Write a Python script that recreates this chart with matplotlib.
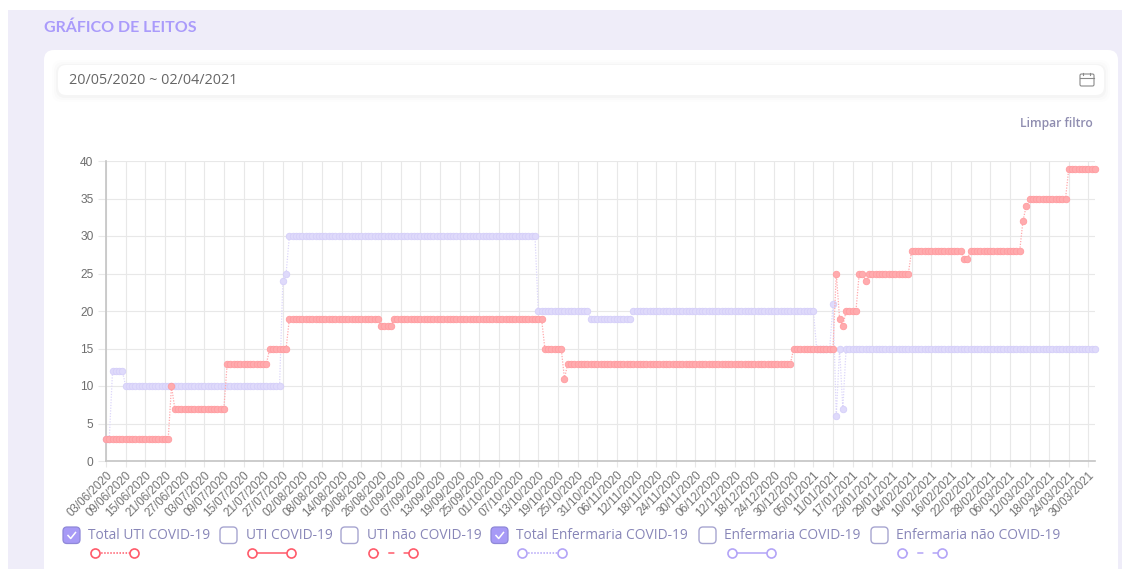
import matplotlib
matplotlib.use("Agg")
import matplotlib.pyplot as plt
import numpy as np
from matplotlib.patches import FancyBboxPatch, Rectangle

W, H = 1122, 569

tick_labels = ["03/06/2020","09/06/2020","15/06/2020","21/06/2020","27/06/2020","03/07/2020","09/07/2020",
 "15/07/2020","21/07/2020","27/07/2020","02/08/2020","08/08/2020","14/08/2020","20/08/2020","26/08/2020",
 "01/09/2020","07/09/2020","13/09/2020","19/09/2020","25/09/2020","01/10/2020","07/10/2020","13/10/2020",
 "19/10/2020","25/10/2020","31/10/2020","06/11/2020","12/11/2020","18/11/2020","24/11/2020","30/11/2020",
 "06/12/2020","12/12/2020","18/12/2020","24/12/2020","30/12/2020","05/01/2021","11/01/2021","17/01/2021",
 "23/01/2021","29/01/2021","04/02/2021","10/02/2021","16/02/2021","22/02/2021","28/02/2021","06/03/2021",
 "12/03/2021","18/03/2021","24/03/2021","30/03/2021"]

# Daily values, stored as level + number of consecutive days
uti_levels = [3,10,7,13,15,19,18,19,15,11,13,15,25,19,18,20,25,24,25,28,27,28,32,34,35,39]
uti_days   = [20,1,16,13,6,28,4,46,6,1,69,13,1,1,1,4,2,1,13,16,2,16,1,1,12,9]
enf_levels = [3,12,10,24,25,30,20,19,20,15,21,6,15,7,15]
enf_days   = [2,4,48,1,1,76,16,13,56,5,1,1,1,1,77]

total_uti = np.repeat(uti_levels, uti_days)
total_enf = np.repeat(enf_levels, enf_days)

y_ticks = [0,5,10,15,20,25,30,35,40]

legend_names = ["Total UTI COVID-19","UTI COVID-19","UTI não COVID-19",
                "Total Enfermaria COVID-19","Enfermaria COVID-19","Enfermaria não COVID-19"]
legend_checked = [True,False,False,True,False,False]

UI_FONT = ["Open Sans","DejaVu Sans"]

fig = plt.figure(figsize=(W/100, H/100), dpi=100, facecolor="white")

# Page furniture in pixel coordinates
bg = fig.add_axes([0,0,1,1])
bg.set_xlim(0,W); bg.set_ylim(H,0); bg.axis("off")
bg.add_patch(Rectangle((8,10), W-8, H-10, fc="#efedf9", ec="none"))
bg.add_patch(FancyBboxPatch((44,50),1074,540,boxstyle="round,pad=0,rounding_size=10",fc="white",ec="none"))
for grow,a in ((6,.008),(4,.012),(2,.018)):
    bg.add_patch(FancyBboxPatch((58-grow,65-grow+1),1046+2*grow,30+2*grow,boxstyle="round,pad=0,rounding_size=9",fc="#000000",ec="none",alpha=a))
bg.add_patch(FancyBboxPatch((58,65),1046,30,boxstyle="round,pad=0,rounding_size=8",fc="white",ec="none"))
bg.text(44,27.5,"GRÁFICO DE LEITOS",fontsize=11.5,fontweight="bold",color="#aa9bfb",va="center",ha="left",family=["Lato","Open Sans","DejaVu Sans"])
bg.text(69,80.5,"20/05/2020 ~ 02/04/2021",fontsize=10.4,color="#666666",va="center",ha="left",family=UI_FONT)
bg.text(1093,123.5,"Limpar filtro",fontsize=8.7,fontweight="semibold",color="#8f8db0",va="center",ha="right",family=UI_FONT)
# calendar icon
bg.add_patch(FancyBboxPatch((1080,74),14,12,boxstyle="round,pad=0,rounding_size=1.5",fc="none",ec="#8a8a8a",lw=.8))
bg.plot([1080,1094],[77.5,77.5],color="#8a8a8a",lw=.8)
bg.plot([1083.5,1083.5],[72.5,75],color="#8a8a8a",lw=.8)
bg.plot([1090.5,1090.5],[72.5,75],color="#8a8a8a",lw=.8)

# Chart
L,R,T,B = 106,1095,161,461
ax = fig.add_axes([L/W,1-B/H,(R-L)/W,(B-T)/H])
ax.patch.set_alpha(0)
x = np.arange(len(total_uti))
ax.set_xlim(0,302); ax.set_ylim(0,40)
ax.set_xticks(np.arange(len(tick_labels))*6)
ax.set_xticklabels(tick_labels,rotation=45,ha="right",rotation_mode="anchor",fontsize=8.4,color="#737373",family="Liberation Sans")
ax.set_yticks(y_ticks)
ax.set_yticklabels(y_ticks,fontsize=8.6,color="#6e6e6e",family="Liberation Sans")
ax.grid(True,color="#e8e8e8",lw=.8)
ax.set_axisbelow(True)
ax.tick_params(axis="y",length=6,color="#e8e8e8",width=.8,pad=3)
ax.tick_params(axis="x",length=4,color="#e8e8e8",width=.8,pad=2)
for s in ("top","right"):
    ax.spines[s].set_visible(False)
for s in ("left","bottom"):
    ax.spines[s].set_color("#c4c4c4"); ax.spines[s].set_linewidth(1.2)

def series(vals,line_c,fill_c,edge_c,z):
    ax.plot(x,vals,color=line_c,lw=.9,ls=(0,(1,1.2)),zorder=z,clip_on=False)
    ax.plot(x,vals,ls="none",marker="o",ms=4.7,mfc=fill_c,mec=edge_c,mew=.6,zorder=z+.1,clip_on=False)

series(total_enf,"#dcd6fa","#dfdafb","#d5cff9",3)
series(total_uti,"#ffa9ac","#ffabae","#ff9ca0",4)

# Interactive legend row
box_x  = [63,220,341,491,699,871]
text_x = [88,246,367,516,724,896]
samp_a = [95,252,373,522,732,902]
samp_b = [134,291,413,562,771,942]
styles = [(0,(1,1)),"-",(0,(4,6))]
for i,name in enumerate(legend_names):
    if legend_checked[i]:
        bg.add_patch(FancyBboxPatch((box_x[i],527),17,16.5,boxstyle="round,pad=0,rounding_size=4",fc="#a79af6",ec="#8f88d8",lw=.9))
        bg.plot([box_x[i]+5,box_x[i]+7.7,box_x[i]+12.5],[535.5,538.5,532.5],color="white",lw=1.1)
    else:
        bg.add_patch(FancyBboxPatch((box_x[i],527),17,16.5,boxstyle="round,pad=0,rounding_size=4",fc="white",ec="#a7a5d0",lw=1))
    bg.text(text_x[i],535.5,name,fontsize=9.95,fontweight="medium",color="#8886b8",va="center",ha="left",family=UI_FONT)
    col = "#ff5a6a" if i<3 else "#b3a4f7"
    bg.plot([samp_a[i],samp_b[i]],[553,553],color=col,lw=1.1,ls=styles[i%3])
    bg.plot([samp_a[i],samp_b[i]],[553,553],ls="none",marker="o",ms=6.5,mfc="white",mec=col,mew=1.2)

fig.savefig("out.png",dpi=100)
